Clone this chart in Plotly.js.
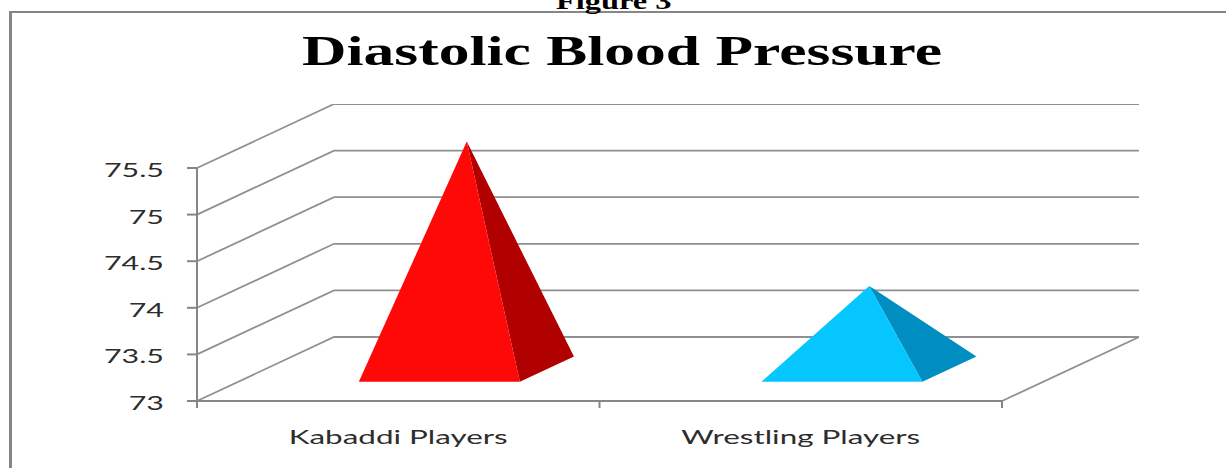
<!DOCTYPE html>
<html>
<head>
<meta charset="utf-8">
<script src="https://cdn.plot.ly/plotly-3.0.1.min.js"></script>
<style>html,body{margin:0;padding:0;background:#fff;overflow:hidden}</style>
</head>
<body>
<div id="chart" style="width:1226px;height:468px"></div>
<script>
// Diastolic blood pressure per player group
const categories = ['Kabaddi Players', 'Wrestling Players'];
const pressure = [75.44, 73.89];
const yTicks = [73, 73.5, 74, 74.5, 75, 75.5];
const chartTitle = 'Diastolic Blood Pressure';
const figureCaption = 'Figure 3';

const W = 1226, H = 468;
const margin = {l: 185, r: 87, t: 104, b: 57};
const plotW = W - margin.l - margin.r, plotH = H - margin.t - margin.b;
const pxPerCat = 402.5, pxPerUnit = 93.2;
const yBase = 73;

// The plot area reaches past the box so tick marks can sit outside it
const tickX = 10 / pxPerCat, tickY = 7 / pxPerUnit;
const xMin = -12 / pxPerCat, xMax = xMin + plotW / pxPerCat;
const yMin = yBase - 10 / pxPerUnit, yMax = yMin + plotH / pxPerUnit;

// Oblique depth of the 3D box, expressed in axis units
const depthX = 137 / pxPerCat;
const depthY = 64 / pxPerUnit;

const gridColor = '#909090', axisColor = '#868686';
const faces = [
  {front: '#ff0808', side: '#b00000'},
  {front: '#05c6ff', side: '#008ec0'}
];

const lineTrace = (x, y, color, width) => ({
  type: 'scatter', mode: 'lines', x, y, hoverinfo: 'skip',
  showlegend: false, line: {color, width, simplify: false}
});

const traces = [];

// Gridlines run from the front wall up the side wall and along the back wall
yTicks.forEach(v => {
  traces.push(lineTrace([0, depthX, xMax], [v, v + depthY, v + depthY], gridColor, 1.8));
  traces.push(lineTrace([-tickX, 0], [v, v], axisColor, 2));
});

// Floor edges and the vertical axis line
traces.push(lineTrace([0, 0], [yBase, yTicks[yTicks.length - 1]], axisColor, 2));
traces.push(lineTrace([0, categories.length], [yBase, yBase], axisColor, 2));
traces.push(lineTrace([categories.length, categories.length + depthX], [yBase, yBase + depthY], gridColor, 1.8));

// Category separator ticks below the floor
for (let i = 0; i <= categories.length; i++) {
  traces.push(lineTrace([i, i], [yBase, yBase - tickY], axisColor, 2));
}

// One pyramid per category: apex at mid-depth, base between 30% and 70% of the depth
const halfBase = 0.2;
const at = (cx, offset, depth, value) => [cx + offset + depth * depthX, value + depth * depthY];
pressure.forEach((value, i) => {
  const cx = i + 0.5;
  const fl = at(cx, -halfBase, 0.3, yBase);
  const fr = at(cx, halfBase, 0.3, yBase);
  const br = at(cx, halfBase, 0.695, yBase);
  const apex = at(cx, 0, 0.5, value);
  const poly = (pts, color) => ({
    type: 'scatter', mode: 'lines', fill: 'toself', fillcolor: color, hoverinfo: 'skip',
    showlegend: false, line: {width: 0, color},
    x: pts.map(p => p[0]), y: pts.map(p => p[1])
  });
  traces.push(poly([fr, br, apex, fr], faces[i].side));
  traces.push(poly([fl, fr, apex, fl], faces[i].front));
});

const paperX = px => (px - margin.l) / plotW;
const paperY = py => 1 - (py - margin.t) / plotH;

const layout = {
  width: W, height: H, margin, showlegend: false,
  paper_bgcolor: '#fff', plot_bgcolor: 'rgba(0,0,0,0)',
  title: {
    text: chartTitle, x: 622 / W, xanchor: 'center', xref: 'container',
    y: 1 - 65 / H, yanchor: 'bottom', yref: 'container', automargin: false,
    font: {family: 'Liberation Serif', size: 42, color: '#000', weight: 700}
  },
  xaxis: {
    range: [xMin, xMax], showgrid: false, zeroline: false, showline: false, ticks: '', ticklen: 0,
    tickmode: 'array', tickvals: categories.map((_, i) => i + 0.5), ticktext: categories,
    ticklabelstandoff: 12, tickangle: 0,
    tickfont: {family: 'Lato', size: 20, color: '#2d2d2d'}, fixedrange: true
  },
  yaxis: {
    range: [yMin, yMax], showgrid: false, zeroline: false, showline: false,
    ticks: '', ticklen: 0,
    tickmode: 'array', tickvals: yTicks, ticktext: yTicks.map(String),
    ticklabelstandoff: 20,
    tickfont: {family: 'Lato', size: 20, color: '#2d2d2d'}, fixedrange: true
  },
  annotations: [{
    text: '<b>' + figureCaption + '</b>', showarrow: false,
    xref: 'paper', yref: 'paper', x: paperX(614), y: paperY(16),
    xanchor: 'center', yanchor: 'bottom',
    font: {family: 'Liberation Serif', size: 24, color: '#000'}
  }],
  shapes: [
    // Chart frame: only the top and left edges fall inside the page
    {type: 'line', xref: 'paper', yref: 'paper', line: {color: axisColor, width: 3},
     x0: paperX(10.5), x1: paperX(10.5), y0: paperY(H), y1: paperY(12)},
    {type: 'line', xref: 'paper', yref: 'paper', line: {color: axisColor, width: 2},
     x0: paperX(9), x1: paperX(W), y0: paperY(12), y1: paperY(12)}
  ]
};

// Widen the lettering to the chart's stretched text proportions
function widen(selector, factor) {
  document.querySelectorAll('#chart ' + selector).forEach(t => {
    t.setAttribute('lengthAdjust', 'spacingAndGlyphs');
    t.setAttribute('textLength', t.getComputedTextLength() * factor);
  });
}

Plotly.newPlot('chart', traces, layout, {displayModeBar: false, responsive: false}).then(() => {
  const title = document.querySelector('#chart .gtitle');
  title.setAttribute('lengthAdjust', 'spacingAndGlyphs');
  title.setAttribute('textLength', 640);
  widen('.ytick text', 1.52);
  widen('.xtick text', 1.57);
  widen('.annotation-text', 1.35);
  document.querySelectorAll('#chart .ytick text').forEach(t => t.setAttribute('dy', '2'));
});
</script>
</body>
</html>
